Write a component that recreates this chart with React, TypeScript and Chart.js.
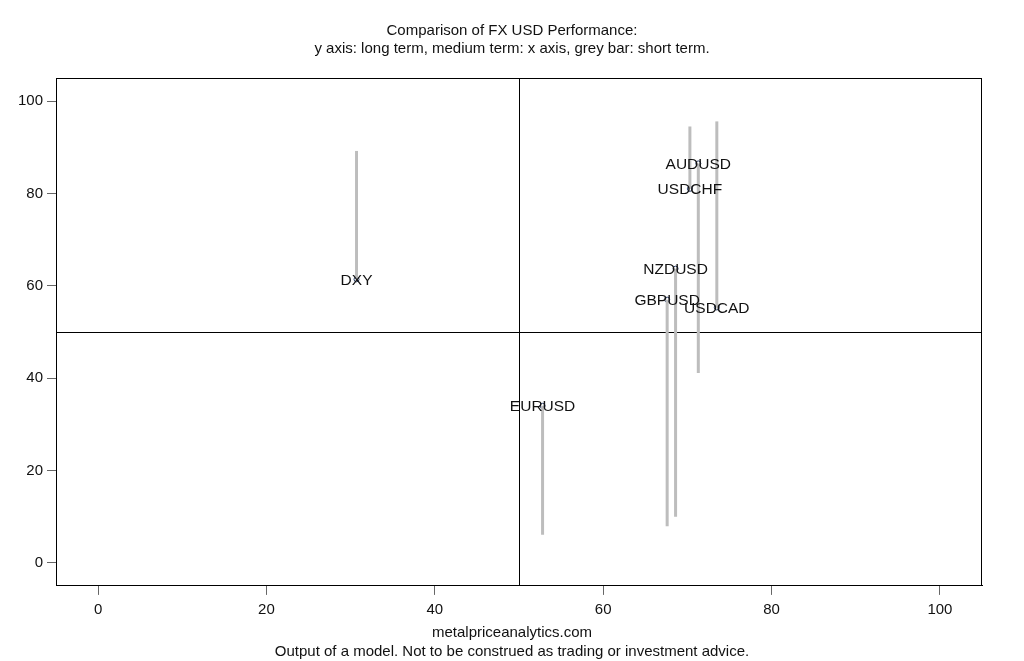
import React, { useEffect, useRef } from 'react';
import { Chart, registerables } from 'chart.js';

Chart.register(...registerables);

const pairs = ['DXY', 'EURUSD', 'GBPUSD', 'NZDUSD', 'USDCHF', 'AUDUSD', 'USDCAD'];
// medium term (x axis)
const mediumTerm = [30.7, 52.8, 67.6, 68.6, 70.3, 71.3, 73.5];
// long term (y axis)
const longTerm = [61.4, 34.0, 57.0, 63.7, 81.0, 86.5, 55.3];
// short term (grey bar end)
const shortTerm = [89.2, 6.1, 7.9, 10.0, 94.5, 41.1, 95.6];

const xTicks = [0, 20, 40, 60, 80, 100];
const yTicks = [0, 20, 40, 60, 80, 100];
const midValue = 50;

const FONT = "Arial, 'Liberation Sans', sans-serif";

const framePlugin = {
  id: 'frame',
  beforeDatasetsDraw(chart: any) {
    const { ctx, chartArea, scales } = chart;
    const px = scales.x.getPixelForValue(midValue);
    const py = scales.y.getPixelForValue(midValue);
    ctx.save();
    ctx.strokeStyle = '#000';
    ctx.lineWidth = 1;
    ctx.beginPath();
    ctx.moveTo(Math.round(px) + 0.5, chartArea.top);
    ctx.lineTo(Math.round(px) + 0.5, chartArea.bottom);
    ctx.moveTo(chartArea.left, Math.round(py) + 0.5);
    ctx.lineTo(chartArea.right, Math.round(py) + 0.5);
    ctx.stroke();
    ctx.strokeRect(
      Math.round(chartArea.left) + 0.5,
      Math.round(chartArea.top) + 0.5,
      Math.round(chartArea.right - chartArea.left) - 1,
      Math.round(chartArea.bottom - chartArea.top) - 1
    );
    ctx.restore();
  },
};

const labelPlugin = {
  id: 'pairLabels',
  afterDatasetsDraw(chart: any) {
    const { ctx, scales } = chart;
    ctx.save();
    ctx.font = `15.5px ${FONT}`;
    ctx.fillStyle = '#111';
    ctx.textAlign = 'center';
    ctx.textBaseline = 'middle';
    pairs.forEach((name, i) => {
      const x = scales.x.getPixelForValue(mediumTerm[i]);
      const y = scales.y.getPixelForValue(longTerm[i]);
      ctx.fillText(name, x, y + 1);
    });
    ctx.restore();
  },
};

const App: React.FC = () => {
  const canvasRef = useRef<HTMLCanvasElement>(null);
  const chartRef = useRef<Chart | null>(null);

  useEffect(() => {
    if (!canvasRef.current) return;
    if (chartRef.current) chartRef.current.destroy();

    const barSets = pairs.map((name, i) => ({
      label: name + ' short term',
      data: [
        { x: mediumTerm[i], y: longTerm[i] },
        { x: mediumTerm[i], y: shortTerm[i] },
      ],
      showLine: true,
      borderColor: '#bdbdbd',
      borderWidth: 3,
      pointRadius: 0,
      borderCapStyle: 'butt' as const,
    }));

    chartRef.current = new Chart(canvasRef.current, {
      type: 'scatter',
      data: {
        datasets: [
          ...barSets,
          {
            label: 'pairs',
            data: pairs.map((_, i) => ({ x: mediumTerm[i], y: longTerm[i] })),
            pointRadius: 2.5,
            pointBorderWidth: 1,
            pointBorderColor: '#2b3f6b',
            pointBackgroundColor: 'rgba(0,0,0,0)',
          },
        ],
      },
      options: {
        animation: false,
        responsive: false,
        layout: { padding: 0 },
        plugins: {
          legend: { display: false },
          tooltip: { enabled: false },
          title: {
            display: true,
            text: [
              'Comparison of FX USD Performance:',
              'y axis: long term, medium term: x axis, grey bar: short term.',
            ],
            color: '#111',
            font: { family: FONT, size: 15, weight: 'normal', lineHeight: 1.2 },
            padding: { top: 22, bottom: 20 },
          },
          subtitle: {
            display: true,
            position: 'bottom',
            text: [
              'metalpriceanalytics.com',
              'Output of a model. Not to be construed as trading or investment advice.',
            ],
            color: '#111',
            font: { family: FONT, size: 15, weight: 'normal', lineHeight: 1.27 },
            padding: { top: 0, bottom: 0 },
          },
        },
        scales: {
          x: {
            type: 'linear',
            min: -5,
            max: 105,
            afterBuildTicks: (scale: any) => {
              scale.ticks = xTicks.map((v) => ({ value: v }));
            },
            afterFit: (scale: any) => {
              scale.height = 37;
            },
            grid: {
              drawOnChartArea: false,
              drawTicks: true,
              tickLength: 9,
              color: '#666',
            },
            border: { display: true, color: '#000' },
            ticks: {
              color: '#111',
              padding: 6,
              font: { family: FONT, size: 15 },
              maxRotation: 0,
            },
          },
          y: {
            type: 'linear',
            min: -5,
            max: 105,
            afterBuildTicks: (scale: any) => {
              scale.ticks = yTicks.map((v) => ({ value: v }));
            },
            afterFit: (scale: any) => {
              scale.width = 56;
            },
            grid: {
              drawOnChartArea: false,
              drawTicks: true,
              tickLength: 9,
              color: '#666',
            },
            border: { display: true, color: '#000' },
            ticks: {
              color: '#111',
              padding: 4,
              font: { family: FONT, size: 15 },
            },
          },
          // empty right-hand gutter so the titles stay centred on the page
          yGutter: {
            type: 'linear',
            position: 'right',
            display: true,
            grid: { display: false },
            border: { display: false },
            ticks: { display: false },
            afterFit: (scale: any) => {
              scale.width = 42;
            },
          },
        },
      },
      plugins: [framePlugin, labelPlugin],
    });

    return () => {
      if (chartRef.current) {
        chartRef.current.destroy();
        chartRef.current = null;
      }
    };
  }, []);

  return (
    <div style={{ position: 'absolute', left: 0, top: 0, width: 1024, height: 661, background: '#fff' }}>
      <canvas ref={canvasRef} width={1024} height={661} style={{ display: 'block' }}></canvas>
    </div>
  );
};

export default App;
